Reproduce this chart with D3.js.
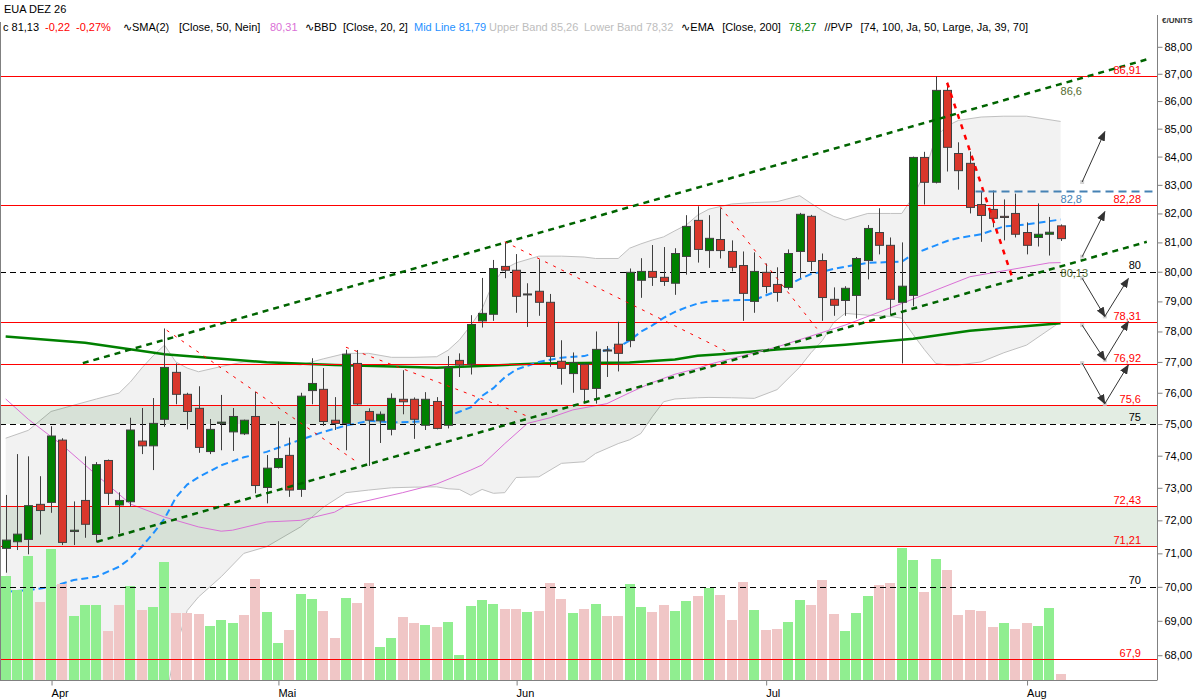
<!doctype html>
<html>
<head>
<meta charset="UTF-8">
<title>EUA DEZ 26</title>
<script src="https://cdn.jsdelivr.net/npm/d3@7"></script>
<style>
  body { margin: 0; background: #fff; }
  svg { display: block; font-family: "Liberation Sans", Arial, sans-serif; }
</style>
</head>
<body>
<svg id="chart" width="1200" height="700"></svg>
<script>
// ---- data (one entry per trading day, 26 Mar - 6 Aug) ----
var opens  = [71.15,71.35,71.42,72.49,72.55,74.49,71.66,72.61,71.57,73.85,72.47,72.57,74.46,74.31,75.15,76.66,75.95,75.50,74.13,75.02,
              74.75,74.69,75.24,73.01,73.63,74.01,72.95,76.07,76.11,75.12,75.02,76.95,75.40,75.10,74.83,75.79,75.79,74.96,75.72,74.96,
              77.05,76.93,78.35,78.57,80.18,80.05,79.25,79.34,78.97,77.02,76.62,76.92,76.14,77.36,77.58,77.70,79.71,80.01,79.81,79.61,
              80.52,81.76,80.72,81.10,80.69,80.21,79.00,79.98,79.57,79.47,80.69,81.90,80.38,79.07,79.03,79.20,80.38,81.34,80.90,78.97,
              79.20,83.97,83.09,86.39,84.11,83.76,82.31,82.14,81.90,82.00,81.34,81.17,81.28,81.57];
var highs  = [72.78,74.05,73.98,73.36,74.93,74.55,72.58,73.98,73.80,73.88,72.86,75.20,75.51,75.83,78.10,76.95,76.00,76.21,75.16,75.93,
              75.51,75.14,76.03,74.02,75.09,74.57,76.00,77.12,76.80,75.86,77.40,77.39,75.50,75.40,75.98,76.73,75.85,76.02,75.86,77.19,
              77.28,78.54,79.79,80.40,81.01,80.60,79.61,80.42,79.25,77.71,77.31,76.95,78.00,77.52,78.32,80.11,80.46,80.91,80.84,80.80,
              81.94,82.25,81.94,82.18,81.07,80.69,80.66,80.28,80.15,80.76,82.02,81.95,80.62,79.47,79.51,80.50,81.60,82.18,81.17,81.00,
              84.00,84.17,86.91,86.67,84.51,84.18,82.76,82.80,82.49,82.69,81.69,82.35,81.88,81.62];
var lows   = [70.42,71.10,70.97,71.57,72.23,71.25,71.25,71.47,71.33,72.47,71.60,72.42,74.05,73.55,74.91,75.63,74.83,74.09,74.05,74.17,
              74.15,74.65,72.83,72.52,73.60,72.72,72.72,75.63,74.94,74.81,74.17,75.60,73.68,74.40,74.64,75.31,74.53,74.81,74.83,74.86,
              76.51,76.59,78.13,78.35,79.78,78.62,78.15,78.52,76.84,76.26,76.00,75.71,75.65,76.51,76.69,77.48,79.12,79.52,79.52,79.22,
              79.90,80.31,80.13,80.45,80.01,78.35,78.62,79.27,78.99,79.40,79.79,80.03,78.35,78.52,78.52,78.43,79.74,80.59,78.57,76.95,
              78.84,82.31,83.05,83.47,82.83,82.00,81.02,81.52,81.07,81.17,80.59,80.86,80.55,81.05];
var closes = [71.40,71.58,72.45,72.30,74.62,71.33,71.70,71.88,73.72,72.83,72.61,74.81,74.31,75.02,76.82,75.95,75.40,74.26,74.83,75.06,
              75.24,75.12,73.07,73.61,73.91,72.93,75.89,76.30,75.08,75.02,77.25,75.64,75.12,75.31,75.82,75.71,75.15,75.79,74.86,76.82,
              76.90,78.23,78.60,80.11,80.05,79.17,79.23,78.97,77.18,76.79,76.98,76.11,77.41,77.39,77.28,79.98,80.01,79.81,79.67,80.62,
              81.55,80.76,81.14,80.72,80.15,79.27,80.01,79.50,79.30,80.62,81.97,80.35,79.13,78.87,79.44,80.45,81.48,80.90,79.07,79.51,
              83.97,83.09,86.39,84.33,83.50,82.21,81.93,81.83,81.86,81.28,80.90,81.28,81.35,81.13];
var volumes = [10.4,9.0,12.4,7.8,13.1,9.6,6.4,7.5,7.5,4.9,7.5,9.4,7.0,7.3,11.8,6.7,6.7,6.6,5.4,6.0,
               5.7,6.5,10.1,6.8,3.7,5.0,8.6,8.1,6.9,4.2,8.2,7.7,9.7,3.3,4.2,6.3,5.7,5.5,5.3,5.8,
               2.5,7.4,8.0,7.6,7.1,7.1,6.8,6.9,9.7,8.1,6.7,7.1,7.6,6.4,6.4,9.6,7.3,6.8,7.5,6.9,
               7.9,8.4,9.2,8.5,6.0,9.8,7.0,5.0,5.1,5.8,8.0,7.5,10.0,6.6,4.9,6.7,8.4,9.5,9.7,13.2,
               12.0,8.8,12.1,11.0,6.5,7.0,6.9,5.3,5.7,5.1,5.7,5.4,7.2,0.6];

var monthIdx = [4, 24, 45, 67, 90];
var monthLabels = ["Apr", "Mai", "Jun", "Jul", "Aug"];

// Bollinger (20, 2) read at these bars
var bandIdx   = [0,2,4,6,8,10,11,12,13,14,15,16,17,19,21,23,26,28,30,32,34,36,38,39,40,41,42,43,44,45,47,49,51,52,54,55,56,57,58,59,60,61,62,64,66,68,70,71,72,73,74,76,78,79,80,81,82,83,84,86,88,90,93];
var bandUpper = [74.55,74.8,75.4,75.6,75.8,75.99,76.35,76.8,77.2,77.55,77.0,76.8,76.68,76.85,77.0,77.0,76.9,77.1,77.28,77.28,77.15,77.15,77.17,77.38,77.72,78.2,78.75,79.65,80.1,80.3,80.53,80.53,80.5,80.45,80.45,80.8,80.95,81.08,81.19,81.4,81.6,81.94,82.15,82.33,82.38,82.41,82.62,82.35,82.1,81.9,81.77,82.0,82.0,82.0,82.58,83.4,84.71,85.1,85.3,85.42,85.45,85.45,85.26];
var bandMid   = [69.85,69.9,70.0,70.2,70.3,70.6,70.85,71.2,71.6,72.05,72.7,73.1,73.33,73.7,73.95,74.12,74.5,74.75,74.95,75.1,75.05,75.07,75.12,75.25,75.39,75.53,75.9,76.15,76.5,76.75,77.0,77.14,77.19,77.3,77.48,77.7,77.99,78.2,78.45,78.65,78.8,78.93,79.0,79.04,79.05,79.35,79.75,79.92,80.0,80.1,80.17,80.3,80.33,80.34,80.6,80.75,80.9,81.05,81.15,81.28,81.55,81.62,81.79];
var bandLower = [65.1,65.0,64.8,64.8,64.8,65.2,65.4,65.6,66.0,66.6,68.2,69.3,69.7,70.3,71.0,71.2,71.8,72.4,72.85,72.93,73.0,73.02,73.03,72.97,72.95,72.77,72.95,72.83,72.85,73.32,73.34,73.76,73.81,74.07,74.38,74.5,74.7,75.23,75.71,75.8,75.82,75.84,75.85,75.84,75.82,76.1,76.83,77.3,77.7,78.3,78.6,78.54,78.5,78.44,77.9,77.4,76.95,76.9,76.9,77.0,77.3,77.55,78.32];

// SMA 50
var smaIdx = [0,2,5,8,11,14,17,19,20,23,26,29,30,35,38,41,42,44,46,48,50,53,55,57,59,61,62,68,74,79,85,92,93];
var smaVal = [75.8,75.15,74.33,73.4,72.5,72.1,71.8,71.67,71.7,71.95,72.0,72.25,72.45,72.85,73.12,73.55,73.71,74.38,75.02,75.2,75.45,75.65,76.0,76.33,76.6,76.79,76.92,77.49,78.21,78.93,79.83,80.3,80.31];

// EMA 200
var emaIdx = [0,7,14,23,29,35,38,44,47,55,59,61,63,68,74,80,85,93];
var emaVal = [77.83,77.63,77.25,76.99,76.9,76.84,76.81,76.9,76.95,76.98,77.08,77.2,77.25,77.41,77.56,77.76,78.02,78.27];

// horizontal levels
var redLevels = [86.91, 82.28, 78.31, 76.92, 75.6, 72.43, 71.21, 67.9];
var blackLevels = [80, 75, 70];
var zoneLow = [75.0, 71.21];
var zoneHigh = [75.6, 72.43];
var blueLevel = 82.8;
var blueLevelFrom = 85.5;
var blueLevelTo = 101.1;

// trend channel [idx0, price0, idx1, price1]
var channelUpper = [6.8, 76.96, 100.6, 87.53];
var channelLower = [8.05, 71.35, 100.6, 81.02];
var channelLabels = ["86,6", "80,13"];

// swing lines [idx0, price0, idx1, price1]
var swingLines = [
  [14.2, 78.04, 31.1, 73.77],
  [30.0, 77.48, 46.0, 75.25],
  [44.0, 81.02, 63.9, 77.28],
  [63.0, 82.23, 71.5, 78.10]
];
var swingBold = [83.0, 86.67, 88.8, 79.74];

// PVP projection arrows [idx0, price0, idx1, price1]
var pvpArrows = [
  [94.9, 83.10, 96.9, 84.89],
  [94.9, 80.51, 96.9, 82.06],
  [94.9, 79.78, 96.9, 78.50],
  [96.9, 78.50, 98.97, 79.77],
  [94.9, 78.21, 96.9, 77.06],
  [96.9, 77.06, 98.97, 78.33],
  [94.9, 76.96, 96.9, 75.65],
  [96.9, 75.65, 98.97, 76.90]
];

// ---- layout ----
var plotL = 0, plotR = 1157, plotT = 22, plotB = 680;
var svg = d3.select("#chart");

var x = d3.scaleLinear().domain([-0.5, 101.5]).range([plotL, plotR]);
var y = d3.scaleLog().domain([67.29, 88.93]).range([plotB, plotT]);
var yVol = d3.scaleLinear().domain([0, 14]).range([plotB, plotB - 140]);

var comma = function(v, f) { return d3.format(f)(v).replace(".", ",").replace("\u2212", "-"); };
var plain = function(v) { return String(v).replace(".", ","); };
var cx = function(i) { return Math.round(x(i)) + 0.5; };

svg.append("defs").append("clipPath").attr("id", "plot")
  .append("rect").attr("x", plotL).attr("y", plotT).attr("width", plotR - plotL).attr("height", plotB - plotT);
svg.select("defs").append("marker")
  .attr("id", "arrow").attr("markerUnits", "userSpaceOnUse")
  .attr("markerWidth", 10).attr("markerHeight", 8).attr("refX", 9).attr("refY", 4).attr("orient", "auto")
  .append("path").attr("d", "M0,0 L10,4 L0,8 z").attr("fill", "#333");

var g = svg.append("g").attr("clip-path", "url(#plot)");

// bollinger fill
var band = bandIdx.map(function(d, i) { return {i: d, u: bandUpper[i], m: bandMid[i], l: bandLower[i]}; });
g.append("path").datum(band)
  .attr("d", d3.area().x(function(d) { return x(d.i); }).y0(function(d) { return y(d.l); }).y1(function(d) { return y(d.u); }))
  .attr("fill", "#f2f2f2");
["u", "l"].forEach(function(k) {
  g.append("path").datum(band)
    .attr("d", d3.line().x(function(d) { return x(d.i); }).y(function(d) { return y(d[k]); }))
    .attr("fill", "none").attr("stroke", "#c0c0c0").attr("stroke-width", 1);
});

// zones
zoneLow.forEach(function(lo, i) {
  g.append("rect").attr("x", plotL).attr("width", plotR - plotL)
    .attr("y", y(zoneHigh[i])).attr("height", y(lo) - y(zoneHigh[i]))
    .attr("fill", "rgb(0,90,0)").attr("fill-opacity", 0.11);
});

// indicator lines
var lineOf = function(idx, vals) {
  return d3.line()(idx.map(function(d, i) { return [x(d), y(vals[i])]; }));
};
g.append("path").attr("d", lineOf(emaIdx, emaVal)).attr("fill", "none").attr("stroke", "#008000").attr("stroke-width", 2.5);
g.append("path").attr("d", lineOf(smaIdx, smaVal)).attr("fill", "none").attr("stroke", "#da70d6").attr("stroke-width", 1);
g.append("path").attr("d", lineOf(bandIdx, bandMid)).attr("fill", "none").attr("stroke", "#1e90ff")
  .attr("stroke-width", 2).attr("stroke-dasharray", "7,4");

// volume
g.selectAll("rect.vol").data(volumes).enter().append("rect").attr("class", "vol")
  .attr("x", function(d, i) { return Math.round(x(i)) - 5; })
  .attr("width", 10)
  .attr("y", function(d) { return yVol(d); })
  .attr("height", function(d) { return plotB - yVol(d); })
  .attr("fill", function(d, i) { return (i === 0 || closes[i] >= closes[i - 1]) ? "#90ee90" : "#f0c6c6"; });

// level lines
blackLevels.forEach(function(v) {
  var yy = Math.round(y(v)) + 0.5;
  g.append("line").attr("x1", plotL).attr("x2", plotR).attr("y1", yy).attr("y2", yy)
    .attr("stroke", "#000").attr("stroke-width", 1).attr("stroke-dasharray", "6,4");
  svg.append("text").attr("x", 1141).attr("y", yy - 4).attr("text-anchor", "end")
    .attr("font-size", 11).attr("fill", "#000").text(plain(v));
});
redLevels.forEach(function(v) {
  var yy = Math.round(y(v)) + 0.5;
  g.append("line").attr("x1", plotL).attr("x2", plotR).attr("y1", yy).attr("y2", yy)
    .attr("stroke", "#ff0000").attr("stroke-width", 1.2);
  svg.append("text").attr("x", 1141).attr("y", yy - 3).attr("text-anchor", "end")
    .attr("font-size", 11).attr("fill", "#ff0000").text(plain(v));
});

// candles
var candles = g.selectAll("g.candle").data(closes).enter().append("g").attr("class", "candle");
candles.append("line")
  .attr("x1", function(d, i) { return cx(i); }).attr("x2", function(d, i) { return cx(i); })
  .attr("y1", function(d, i) { return y(highs[i]); }).attr("y2", function(d, i) { return y(lows[i]); })
  .attr("stroke", "#404040").attr("stroke-width", 1);
candles.append("rect")
  .attr("x", function(d, i) { return cx(i) - 4; })
  .attr("width", 8)
  .attr("y", function(d, i) { return y(Math.max(opens[i], d)); })
  .attr("height", function(d, i) { return Math.max(1, Math.abs(y(opens[i]) - y(d))); })
  .attr("fill", function(d, i) { return d >= opens[i] ? "#008000" : "#d9372b"; })
  .attr("stroke", "#404040").attr("stroke-width", 1);

// trend channel
[channelUpper, channelLower].forEach(function(c) {
  g.append("line").attr("x1", x(c[0])).attr("y1", y(c[1])).attr("x2", x(c[2])).attr("y2", y(c[3]))
    .attr("stroke", "#006400").attr("stroke-width", 2.5).attr("stroke-dasharray", "6,5");
});
var lastIdx = closes.length - 1;
[channelUpper, channelLower].forEach(function(c, k) {
  var t = (lastIdx - c[0]) / (c[2] - c[0]);
  var yy = y(c[1]) + t * (y(c[3]) - y(c[1]));
  svg.append("text").attr("x", x(lastIdx)).attr("y", yy + 11)
    .attr("font-size", 11).attr("fill", "#556b2f").text(channelLabels[k]);
});

// swing lines
swingLines.forEach(function(s) {
  g.append("line").attr("x1", x(s[0])).attr("y1", y(s[1])).attr("x2", x(s[2])).attr("y2", y(s[3]))
    .attr("stroke", "#ff0000").attr("stroke-width", 1).attr("stroke-dasharray", "3,6");
});
g.append("line").attr("x1", x(swingBold[0])).attr("y1", y(swingBold[1])).attr("x2", x(swingBold[2])).attr("y2", y(swingBold[3]))
  .attr("stroke", "#ff0000").attr("stroke-width", 2.5).attr("stroke-dasharray", "5,6");

// blue level
var by = Math.round(y(blueLevel)) + 0.5;
g.append("line").attr("x1", x(blueLevelFrom)).attr("x2", x(blueLevelTo)).attr("y1", by).attr("y2", by)
  .attr("stroke", "#4682b4").attr("stroke-width", 2).attr("stroke-dasharray", "8,5");
svg.append("text").attr("x", x(lastIdx)).attr("y", by + 11)
  .attr("font-size", 11).attr("fill", "#4682b4").text(plain(blueLevel));

// PVP arrows
pvpArrows.forEach(function(a) {
  svg.append("rect").attr("x", x(a[0]) - 2).attr("y", y(a[1]) - 2).attr("width", 4).attr("height", 4).attr("fill", "#d3d3d3");
});
pvpArrows.forEach(function(a) {
  svg.append("line").attr("x1", x(a[0])).attr("y1", y(a[1])).attr("x2", x(a[2])).attr("y2", y(a[3]))
    .attr("stroke", "#333").attr("stroke-width", 1).attr("marker-end", "url(#arrow)");
});

// axes
var yAxis = d3.axisRight(y).tickValues(d3.range(68, 89)).tickFormat(function(d) { return comma(d, ".2f"); }).tickSize(5).tickPadding(2);
var ya = svg.append("g").attr("transform", "translate(" + (plotR + 0.5) + ",0)").call(yAxis);
ya.select(".domain").remove();
ya.selectAll("line").attr("stroke", "#808080");
ya.selectAll("text").attr("font-size", 11).attr("fill", "#000").attr("font-family", "Liberation Sans, Arial, sans-serif");
svg.append("line").attr("x1", plotR + 0.5).attr("x2", plotR + 0.5).attr("y1", 15).attr("y2", plotB)
  .attr("stroke", "#808080");
svg.append("text").attr("x", 1162).attr("y", 23).attr("font-size", 8).attr("font-weight", "bold")
  .attr("fill", "#333").text("€/UNITS");

var xAxis = d3.axisBottom(x).tickValues(monthIdx).tickFormat(function(d, i) { return monthLabels[i]; }).tickSize(5).tickPadding(4);
var xa = svg.append("g").attr("transform", "translate(0," + (plotB + 0.5) + ")").call(xAxis);
xa.select(".domain").remove();
xa.selectAll("line").attr("stroke", "#808080").attr("transform", "translate(0.5,0)");
xa.selectAll("text").attr("text-anchor", "start").attr("font-size", 11).attr("fill", "#000")
  .attr("font-family", "Liberation Sans, Arial, sans-serif");
svg.append("line").attr("x1", plotL).attr("x2", plotR + 0.5).attr("y1", plotB + 0.5).attr("y2", plotB + 0.5).attr("stroke", "#808080");
svg.append("line").attr("x1", 0.5).attr("x2", 0.5).attr("y1", plotT).attr("y2", plotB).attr("stroke", "#808080");

// header
var last = closes[lastIdx], prev = closes[lastIdx - 1];
var header = [
  {t: "c " + comma(last, ".2f"), x: 3, c: "#000"},
  {t: comma(last - prev, ".2f"), x: 45, c: "#ff0000"},
  {t: comma((last - prev) / prev * 100, ".2f") + "%", x: 76, c: "#ff0000"},
  {t: "\u223fSMA(2)", x: 123, c: "#000"},
  {t: "[Close, 50, Nein]", x: 179, c: "#000"},
  {t: comma(smaVal[smaVal.length - 1], ".2f"), x: 270, c: "#da70d6"},
  {t: "\u223fBBD", x: 305, c: "#000"},
  {t: "[Close, 20, 2]", x: 343, c: "#000"},
  {t: "Mid Line " + comma(bandMid[bandMid.length - 1], ".2f"), x: 414, c: "#1e90ff"},
  {t: "Upper Band " + comma(bandUpper[bandUpper.length - 1], ".2f"), x: 489, c: "#bdbdbd"},
  {t: "Lower Band " + comma(bandLower[bandLower.length - 1], ".2f"), x: 584, c: "#bdbdbd"},
  {t: "\u223fEMA", x: null, c: "#000"},
  {t: "[Close, 200]", x: null, c: "#000"},
  {t: comma(emaVal[emaVal.length - 1], ".2f"), x: null, c: "#008000"},
  {t: "//PVP", x: null, c: "#000"},
  {t: "[74, 100, Ja, 50, Large, Ja, 39, 70]", x: null, c: "#000"}
];
svg.append("text").attr("x", 4).attr("y", 13).attr("font-size", 11).attr("fill", "#000").text("EUA DEZ 26");
var hx = 0;
header.forEach(function(d) {
  var t = svg.append("text").attr("y", 31).attr("font-size", 11).attr("fill", d.c).text(d.t);
  var px = d.x !== null ? d.x : hx + 8;
  t.attr("x", px);
  hx = px + t.node().getComputedTextLength();
});
</script>
</body>
</html>
